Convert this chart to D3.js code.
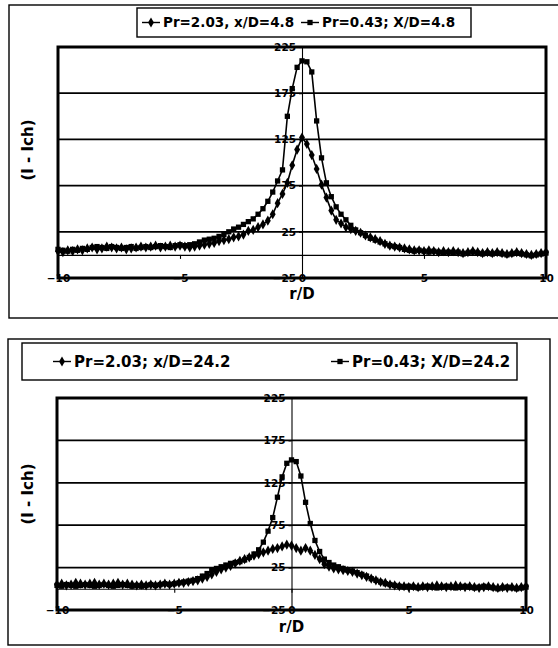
<!DOCTYPE html>
<html>
<head>
<meta charset="utf-8">
<script src="https://cdn.jsdelivr.net/npm/d3@7"></script>
<style>
  body { margin: 0; background: #fff; }
  text { font-family: 'DejaVu Sans', sans-serif; font-weight: bold; fill: #000; }
</style>
</head>
<body>
<div id="chart"></div>
<script>
/* global d3 */

// radial positions r/D shared by all series
const rValues = [
  -10, -9.8, -9.6, -9.4, -9.2, -9, -8.8, -8.6, -8.4, -8.2,
  -8, -7.8, -7.6, -7.4, -7.2, -7, -6.8, -6.6, -6.4, -6.2,
  -6, -5.8, -5.6, -5.4, -5.2, -5, -4.8, -4.6, -4.4, -4.2,
  -4, -3.8, -3.6, -3.4, -3.2, -3, -2.8, -2.6, -2.4, -2.2,
  -2, -1.8, -1.6, -1.4, -1.2, -1, -0.8, -0.6, -0.4, -0.2,
  0,
  0.2, 0.4, 0.6, 0.8, 1, 1.2, 1.4, 1.6, 1.8, 2,
  2.2, 2.4, 2.6, 2.8, 3, 3.2, 3.4, 3.6, 3.8, 4,
  4.2, 4.4, 4.6, 4.8, 5, 5.2, 5.4, 5.6, 5.8, 6,
  6.2, 6.4, 6.6, 6.8, 7, 7.2, 7.4, 7.6, 7.8, 8,
  8.2, 8.4, 8.6, 8.8, 9, 9.2, 9.4, 9.6, 9.8, 10
];

// x/D = 4.8
const pr203Near = [
  4, 3, 5, 4, 6, 5, 7, 8, 6, 7,
  9, 8, 7, 8, 6, 7, 8, 9, 8, 9,
  10, 8, 9, 10, 9, 10, 9, 8, 9, 10,
  11, 12, 13, 15, 16, 17, 19, 20, 22, 26,
  27, 30, 33, 37, 44, 56, 66, 78, 97, 114,
  127,
  120, 108, 93, 76, 62, 48, 38, 34, 30, 28,
  26, 24, 21, 19, 17, 15, 12, 10, 9, 8,
  7, 6, 5, 5, 4, 5, 4, 3, 4, 3,
  4, 3, 2, 3, 4, 3, 2, 3, 2, 3,
  2, 1, 2, 3, 2, 1, 0, 1, 2, 3
];
const pr043Near = [
  6, 5, 4, 6, 5, 7, 6, 8, 9, 8,
  7, 9, 8, 7, 8, 9, 7, 8, 9, 8,
  9, 10, 9, 8, 10, 11, 10, 11, 12, 14,
  16, 17, 18, 20, 22, 25, 28, 30, 33, 36,
  39, 44, 50, 58, 68, 80, 92, 150, 180, 203,
  210,
  209, 198, 145, 105, 78, 63, 52, 44, 38, 32,
  27, 24, 21, 18, 16, 14, 12, 10, 9, 8,
  6, 5, 4, 5, 4, 3, 4, 3, 2, 3,
  2, 3, 1, 2, 3, 2, 1, 2, 1, 2,
  1, 0, 1, 2, 1, 0, -1, 0, 1, 2
];

// x/D = 24.2
const pr203Far = [
  5, 6, 4, 5, 7, 6, 5, 6, 7, 5,
  6, 5, 6, 7, 5, 6, 5, 4, 5, 4,
  5, 4, 5, 6, 5, 6, 7, 7, 8, 9,
  10, 12, 14, 17, 20, 23, 25, 27, 30, 33,
  35, 37, 39, 41, 43, 45, 47, 48, 50, 52,
  51,
  48, 45, 48, 45, 40, 35, 29, 26, 24, 23,
  22, 21, 20, 18, 16, 14, 12, 10, 8, 7,
  5, 4, 3, 3, 2, 3, 2, 3, 2, 3,
  4, 3, 2, 3, 4, 3, 2, 3, 2, 1,
  2, 3, 2, 1, 2, 1, 2, 1, 2, 3
];
const pr043Far = [
  4, 3, 5, 4, 3, 4, 5, 4, 3, 4,
  5, 4, 3, 4, 5, 4, 3, 4, 3, 4,
  5, 4, 5, 6, 5, 6, 7, 8, 9, 10,
  12, 15, 18, 22, 24, 26, 28, 30, 31, 32,
  34, 37, 41, 46, 55, 68, 84, 108, 132, 148,
  152,
  150, 133, 102, 77, 57, 44, 35, 31, 28, 26,
  24, 22, 21, 19, 17, 15, 12, 10, 8, 6,
  5, 4, 3, 2, 3, 2, 1, 2, 3, 2,
  1, 2, 3, 2, 1, 2, 3, 2, 1, 2,
  3, 2, 1, 0, 1, 2, 1, 0, 1, 2
];

const yTicks = [-25, 25, 75, 125, 175, 225];
const xTicks = [-10, -5, 0, 5, 10];
const legendNear = ['Pr=2.03, x/D=4.8', 'Pr=0.43; X/D=4.8'];
const legendFar = ['Pr=2.03; x/D=24.2', 'Pr=0.43; X/D=24.2'];

const svg = d3.select('#chart').append('svg')
    .attr('width', 558)
    .attr('height', 648);

function styleTickText(sel) {
    sel.style('font-size', '10.5px')
        .style('font-family', "'DejaVu Sans', sans-serif")
        .style('font-weight', 'bold');
}

function drawPanel(cfg) {
    const g = svg.append('g');

    // outer frame
    g.append('rect')
        .attr('x', cfg.frame[0]).attr('y', cfg.frame[1])
        .attr('width', cfg.frame[2]).attr('height', cfg.frame[3])
        .attr('fill', 'none').attr('stroke', '#000').attr('stroke-width', 1.4);

    const x = d3.scaleLinear().domain([-10, 10]).range([cfg.plot.left, cfg.plot.right]);
    const y = d3.scaleLinear().domain([-25, 225]).range([cfg.plot.bottom, cfg.plot.top]);

    // horizontal gridlines
    g.selectAll('.grid')
        .data(yTicks)
        .enter().append('line')
        .attr('x1', cfg.plot.left).attr('x2', cfg.plot.right)
        .attr('y1', d => y(d)).attr('y2', d => y(d))
        .attr('stroke', '#000').attr('stroke-width', 1.8);

    // x axis crossing at y = 0 (tick marks only)
    g.append('g')
        .attr('transform', `translate(0,${y(0)})`)
        .call(d3.axisBottom(x).tickValues(xTicks).tickSize(4).tickSizeOuter(0).tickFormat(''))
        .call(a => a.selectAll('line, path').attr('stroke', '#000').attr('stroke-width', 1.1));

    // x labels placed low, on the bottom border
    g.append('g')
        .attr('transform', `translate(0,${cfg.plot.bottom})`)
        .call(d3.axisBottom(x).tickValues(xTicks).tickSize(0).tickFormat(d3.format('d')))
        .call(a => a.select('.domain').remove())
        .call(a => a.selectAll('text').attr('y', -3).call(styleTickText));

    // y axis crossing at x = 0
    g.append('g')
        .attr('transform', `translate(${x(0)},0)`)
        .call(d3.axisLeft(y).tickValues(yTicks).tickSize(3).tickPadding(3).tickSizeOuter(0))
        .call(a => a.selectAll('line, path').attr('stroke', '#000').attr('stroke-width', 1.1))
        .call(a => a.selectAll('text').call(styleTickText));

    // plot area border
    g.append('rect')
        .attr('x', cfg.plot.left).attr('y', cfg.plot.top)
        .attr('width', cfg.plot.right - cfg.plot.left)
        .attr('height', cfg.plot.bottom - cfg.plot.top)
        .attr('fill', 'none').attr('stroke', '#000').attr('stroke-width', 3);

    const line = d3.line()
        .x((d, i) => x(rValues[i]))
        .y(d => y(d));

    const series = [
        { values: cfg.seriesA, symbol: d3.symbolDiamond, size: 30 },
        { values: cfg.seriesB, symbol: d3.symbolSquare, size: 28 }
    ];

    series.forEach(s => {
        g.append('path')
            .datum(s.values)
            .attr('d', line)
            .attr('fill', 'none')
            .attr('stroke', '#000')
            .attr('stroke-width', 1.6);

        g.selectAll(null)
            .data(s.values)
            .enter().append('path')
            .attr('transform', (d, i) => `translate(${x(rValues[i])},${y(d)})`)
            .attr('d', d3.symbol().type(s.symbol).size(s.size))
            .attr('fill', '#000');
    });

    // axis titles
    g.append('text')
        .attr('transform', `translate(${cfg.yTitle[0]},${cfg.yTitle[1]}) rotate(-90)`)
        .attr('text-anchor', 'middle')
        .attr('dy', '0.35em')
        .style('font-size', '15px')
        .text('(I - Ich)');

    g.append('text')
        .attr('x', x(0))
        .attr('y', cfg.xTitleY)
        .attr('text-anchor', 'middle')
        .attr('dy', '0.35em')
        .style('font-size', '15px')
        .text('r/D');

    // legend
    const lg = cfg.legend;
    g.append('rect')
        .attr('x', lg.box[0]).attr('y', lg.box[1])
        .attr('width', lg.box[2]).attr('height', lg.box[3])
        .attr('fill', '#fff').attr('stroke', '#000').attr('stroke-width', 1.4);

    lg.labels.forEach((label, i) => {
        const lx = lg.items[i];
        const cy = lg.box[1] + lg.box[3] / 2;
        g.append('line')
            .attr('x1', lx).attr('x2', lx + 18)
            .attr('y1', cy).attr('y2', cy)
            .attr('stroke', '#000').attr('stroke-width', 1.4);
        g.append('path')
            .attr('transform', `translate(${lx + 9},${cy})`)
            .attr('d', d3.symbol().type(series[i].symbol).size(series[i].size))
            .attr('fill', '#000');
        g.append('text')
            .attr('x', lx + 21)
            .attr('y', cy)
            .attr('dy', '0.36em')
            .style('font-size', lg.fontSize + 'px')
            .text(label);
    });
}

drawPanel({
    frame: [9, 5, 560, 313],
    plot: { left: 58, right: 546, top: 47, bottom: 278 },
    seriesA: pr203Near,
    seriesB: pr043Near,
    yTitle: [28, 150],
    xTitleY: 294,
    legend: { box: [137, 8, 334, 29], items: [142, 301], labels: legendNear, fontSize: 13.5 }
});

drawPanel({
    frame: [8, 339, 542, 306],
    plot: { left: 57, right: 526, top: 398, bottom: 610 },
    seriesA: pr203Far,
    seriesB: pr043Far,
    yTitle: [28, 494],
    xTitleY: 627,
    legend: { box: [22, 343, 495, 37], items: [53, 331], labels: legendFar, fontSize: 15 }
});
</script>
</body>
</html>
